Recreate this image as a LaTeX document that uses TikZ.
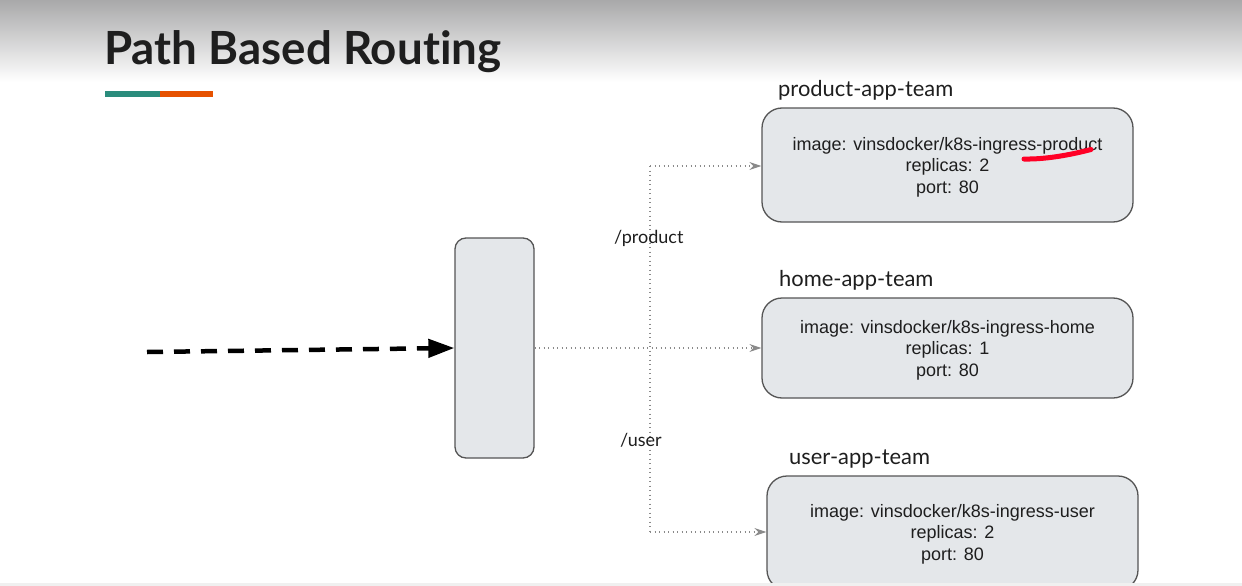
\documentclass[tikz,border=0pt]{standalone}
\usepackage{fontspec}
\setmainfont{Liberation Sans}
\newfontfamily\latofont[Ligatures=NoCommon]{Lato}
\usetikzlibrary{arrows.meta}
\definecolor{boxfill}{HTML}{E4E7EA}
\definecolor{boxline}{HTML}{555555}
\definecolor{tealbar}{HTML}{2A8C7C}
\definecolor{orangebar}{HTML}{E65100}
\definecolor{topgray}{HTML}{A9A9AA}
\definecolor{txt}{HTML}{1E1E1E}
\definecolor{dotgray}{HTML}{8A8A8A}
\tikzset{
  appbox/.style={draw=boxline, line width=1.3pt, fill=boxfill, rounded corners=20pt,
    minimum width=371pt, minimum height=#1},
  boxtext/.style={align=center, font=\fontsize{18}{21.5}\selectfont, text=txt, inner sep=0pt},
  teamlabel/.style={anchor=base west, font=\latofont\fontsize{21.9}{26}\selectfont, text=txt, inner sep=0pt},
  pathlabel/.style={anchor=base west, font=\latofont\fontsize{18}{22}\selectfont, text=txt, inner sep=0pt},
  route/.style={draw=dotgray, line width=1.2pt, dash pattern=on 1.2pt off 3.3pt, -{Stealth[length=12pt,width=8pt,inset=4pt,fill=dotgray]}},
  trunk/.style={draw=dotgray, line width=1.2pt, dash pattern=on 1.2pt off 3.3pt}
}
\begin{document}
\begin{tikzpicture}[x=1pt,y=-1pt]
\useasboundingbox (0,0) rectangle (1242,586);
\fill[white] (0,0) rectangle (1242,586);
\shade[top color=topgray, bottom color=white] (0,0) rectangle (1242,82);
% title
\node[anchor=base west, inner sep=0pt, font=\latofont\bfseries\fontsize{45.7}{50}\selectfont, text=txt] (title) at (104,65) {Path Based Routing};
\fill[tealbar] (105,91) rectangle (160,97);
\fill[orangebar] (160,91) rectangle (213,97);
% ingress
\node[draw=boxline, line width=1.3pt, fill=boxfill, rounded corners=11pt, minimum width=79pt, minimum height=220pt] (ingress) at (494.5,348) {};
% boxes
\node[appbox=114pt] (product) at (947.5,165) {};
\node[boxtext] (producttext) at (947.5,167) {image: vinsdocker/k8s-ingress-product\\replicas: 2\\port: 80};
\node[appbox=100pt] (home) at (947.5,348) {};
\node[boxtext] (hometext) at (947.5,350) {image: vinsdocker/k8s-ingress-home\\replicas: 1\\port: 80};
\begin{scope}
\clip (0,0) rectangle (1242,583);
\node[appbox=114pt] (user) at (952.5,533) {};
\end{scope}
\node[boxtext] (usertext) at (952.5,534) {image: vinsdocker/k8s-ingress-user\\replicas: 2\\port: 80};
\fill[gray!12] (0,583) rectangle (1242,586);
% labels
\node[teamlabel] (lp) at (778,96) {product-app-team};
\node[teamlabel] (lh) at (779,286) {home-app-team};
\node[teamlabel] (lu) at (789,464) {user-app-team};
% red stroke
\draw[red!85!magenta, line width=5pt, line cap=round] (1024,159) .. controls (1045,159.5) and (1070,155) .. (1091,149.5);
% incoming dashed arrow
\coordinate (src) at (147,352);
\draw[line width=4.5pt, dash pattern=on 16pt off 11pt, -{Triangle[length=26pt,width=18pt]}] (src) -- (ingress.west);
% routes
\coordinate (jt) at (650,166);
\coordinate (jb) at (650,532);
\draw[trunk] (jt) -- (jb);
\draw[route] (ingress.east) -- (home.west);
\draw[route] (jt) -- (product.west |- jt);
\draw[route] (jb) -- (user.west |- jb);
\node[pathlabel] (pp) at (614,243) {/product};
\node[pathlabel] (pu) at (620,446) {/user};
\end{tikzpicture}
\end{document}
